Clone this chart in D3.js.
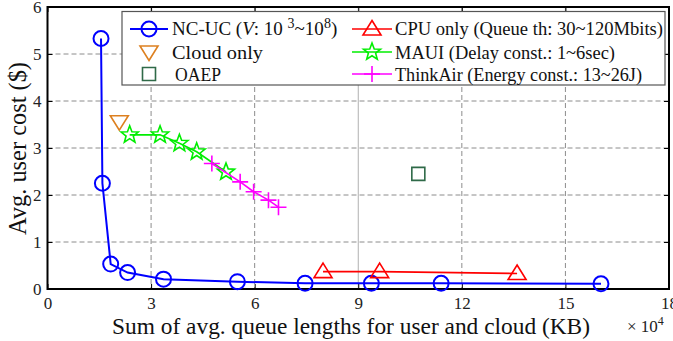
<!DOCTYPE html>
<html>
<head>
<meta charset="utf-8">
<script src="https://cdn.jsdelivr.net/npm/d3@7"></script>
<style>
  body { margin: 0; background: #fff; }
  .grid line { stroke: #8c8c8c; stroke-width: 1; stroke-dasharray: 5, 3; }
</style>
</head>
<body>
<svg width="673" height="341"></svg>
<script>
// data (x in 10^4 KB, y in $)
var ncucX = [1.55, 1.59, 1.83, 2.32, 3.36, 5.5, 7.46, 9.38, 11.4, 16.03];
var ncucY = [5.33, 2.25, 0.53, 0.35, 0.21, 0.155, 0.12, 0.12, 0.12, 0.11];
var cpuX = [7.98, 9.62, 13.6];
var cpuY = [0.37, 0.37, 0.33];
var cloudX = [2.08];
var cloudY = [3.56];
var mauiX = [2.38, 3.26, 3.82, 4.32, 5.17];
var mauiY = [3.28, 3.28, 3.1, 2.92, 2.49];
var thinkX = [4.76, 5.58, 5.97, 6.40, 6.69];
var thinkY = [2.67, 2.28, 2.07, 1.89, 1.74];
var oaepX = [10.74];
var oaepY = [2.45];

var xTicks = [0, 3, 6, 9, 12, 15, 18];
var yTicks = [0, 1, 2, 3, 4, 5, 6];

var plotL = 47.5, plotR = 669, plotT = 7, plotB = 289;
var serif = "Liberation Serif, Tinos, Times New Roman, Nimbus Roman, DejaVu Serif, serif";

var svg = d3.select("svg");

var x = d3.scaleLinear().domain([0, 18]).range([plotL, plotR]);
var y = d3.scaleLinear().domain([0, 6]).range([plotB, plotT]);

// grid
var grid = svg.append("g").attr("class", "grid");
grid.selectAll(".gx")
    .data(xTicks.slice(1, -1))
    .enter().append("line")
    .attr("x1", function(d) { return x(d); })
    .attr("x2", function(d) { return x(d); })
    .attr("y1", plotT)
    .attr("y2", plotB)
    .style("stroke-dasharray", function(d) { return d === 9 ? "none" : null; })
    .style("stroke", function(d) { return d === 9 ? "#b0b0b0" : null; });
grid.selectAll(".gy")
    .data(yTicks.slice(1, -1))
    .enter().append("line")
    .attr("x1", plotL)
    .attr("x2", plotR)
    .attr("y1", function(d) { return y(d); })
    .attr("y2", function(d) { return y(d); });

// axes with inward ticks
var fmt = d3.format("d");
var axB = svg.append("g")
    .attr("transform", "translate(0," + plotB + ")")
    .call(d3.axisBottom(x).tickValues(xTicks).tickFormat(fmt).tickSize(-5).tickPadding(8));
var axL = svg.append("g")
    .attr("transform", "translate(" + plotL + ",0)")
    .call(d3.axisLeft(y).tickValues(yTicks).tickFormat(fmt).tickSize(-5).tickPadding(6));
svg.append("g")
    .attr("transform", "translate(0," + plotT + ")")
    .call(d3.axisTop(x).tickValues(xTicks).tickSize(-5).tickFormat(""));
svg.append("g")
    .attr("transform", "translate(" + plotR + ",0)")
    .call(d3.axisRight(y).tickValues(yTicks).tickSize(-5).tickFormat(""));

svg.selectAll(".domain").remove();
svg.selectAll(".tick line").attr("stroke", "#000");
svg.selectAll("g").attr("font-family", serif).attr("font-size", 17);
svg.selectAll(".tick text").attr("fill", "#222");

svg.append("rect")
    .attr("x", plotL)
    .attr("y", plotT)
    .attr("width", plotR - plotL)
    .attr("height", plotB - plotT)
    .attr("fill", "none")
    .attr("stroke", "#000")
    .attr("stroke-width", 2);

// marker paths
function circlePath() { return d3.symbol().type(d3.symbolCircle).size(Math.PI * 7.5 * 7.5)(); }
function triUp() { return "M0,-8.5L9,6L-9,6Z"; }
function triDown() { return "M0,8.5L9,-6L-9,-6Z"; }
function plusPath() { return "M-8,0L8,0M0,-8L0,8"; }
function squarePath() { return "M-6.5,-6.5L6.5,-6.5L6.5,6.5L-6.5,6.5Z"; }
function starPath() {
    var p = [];
    for (var i = 0; i < 10; i++) {
        var r = i % 2 === 0 ? 9 : 3.8;
        var a = -Math.PI / 2 + i * Math.PI / 5;
        p.push([r * Math.cos(a), r * Math.sin(a)]);
    }
    return "M" + p.map(function(q) { return q[0].toFixed(2) + "," + q[1].toFixed(2); }).join("L") + "Z";
}

var line = d3.line()
    .x(function(d) { return x(d[0]); })
    .y(function(d) { return y(d[1]); });

function zip(xs, ys) { return xs.map(function(v, i) { return [v, ys[i]]; }); }

function series(xs, ys, color, width, marker, drawLine) {
    var pts = zip(xs, ys);
    var g = svg.append("g");
    if (drawLine) {
        g.append("path")
            .datum(pts)
            .attr("d", line)
            .attr("fill", "none")
            .attr("stroke", color)
            .attr("stroke-width", width);
    }
    g.selectAll(".m")
        .data(pts)
        .enter().append("path")
        .attr("transform", function(d) { return "translate(" + x(d[0]) + "," + y(d[1]) + ")"; })
        .attr("d", marker())
        .attr("fill", "none")
        .attr("stroke", color)
        .attr("stroke-width", width);
}

series(ncucX, ncucY, "#0000ff", 2, circlePath, true);
series(cpuX, cpuY, "#ff0000", 1.6, triUp, true);
series(cloudX, cloudY, "#dd8020", 1.6, triDown, false);
series(mauiX, mauiY, "#00ee00", 1.6, starPath, true);
series(thinkX, thinkY, "#ff00ff", 1.6, plusPath, true);
series(oaepX, oaepY, "#2f6a48", 1.6, squarePath, false);

// legend
var lg = svg.append("g");
lg.append("rect")
    .attr("x", 122)
    .attr("y", 11.5)
    .attr("width", 543)
    .attr("height", 73.5)
    .attr("fill", "#fff")
    .attr("stroke", "#555")
    .attr("stroke-width", 1.2);

var rowY = [29, 52, 74];
var legendItems = [
    { col: 0, row: 0, color: "#0000ff", w: 2, marker: circlePath, line: true },
    { col: 0, row: 1, color: "#dd8020", w: 1.6, marker: triDown, line: false },
    { col: 0, row: 2, color: "#2f6a48", w: 1.6, marker: squarePath, line: false },
    { col: 1, row: 0, color: "#ff0000", w: 1.6, marker: triUp, line: true },
    { col: 1, row: 1, color: "#00ee00", w: 1.6, marker: starPath, line: true },
    { col: 1, row: 2, color: "#ff00ff", w: 1.6, marker: plusPath, line: true }
];
var colX = [[130, 168], [352, 392]];
legendItems.forEach(function(it) {
    var x0 = colX[it.col][0], x1 = colX[it.col][1], cy = rowY[it.row];
    if (it.line) {
        lg.append("line")
            .attr("x1", x0).attr("x2", x1)
            .attr("y1", cy).attr("y2", cy)
            .attr("stroke", it.color)
            .attr("stroke-width", it.w);
    }
    lg.append("path")
        .attr("transform", "translate(" + (x0 + x1) / 2 + "," + cy + ")")
        .attr("d", it.marker())
        .attr("fill", "none")
        .attr("stroke", it.color)
        .attr("stroke-width", it.w);
});

function legendText(tx, ty, len) {
    var t = lg.append("text")
        .attr("x", tx)
        .attr("y", ty)
        .attr("font-size", 19)
        .attr("font-family", serif)
        .attr("fill", "#111");
    if (len) t.attr("textLength", len).attr("lengthAdjust", "spacingAndGlyphs");
    return t;
}
var t1 = legendText(172, 35);
t1.append("tspan").text("NC-UC (");
t1.append("tspan").attr("font-style", "italic").text("V");
t1.append("tspan").text(": 10 ");
t1.append("tspan").attr("dy", -7).attr("font-size", 14).text("3");
t1.append("tspan").attr("dy", 7).text("~10");
t1.append("tspan").attr("dy", -7).attr("font-size", 14).text("8");
t1.append("tspan").attr("dy", 7).text(")");
legendText(172, 59, 91).text("Cloud only");
legendText(175, 81, 46).text("OAEP");
legendText(395, 35, 268).text("CPU only (Queue th: 30~120Mbits)");
legendText(395, 59, 220).text("MAUI (Delay const.: 1~6sec)");
legendText(395, 81, 247).text("ThinkAir (Energy const.: 13~26J)");

// axis titles
svg.append("text")
    .attr("x", 112)
    .attr("y", 334)
    .attr("textLength", 478)
    .attr("lengthAdjust", "spacingAndGlyphs")
    .attr("font-size", 23)
    .attr("font-family", serif)
    .attr("fill", "#111")
    .text("Sum of avg. queue lengths for user and cloud (KB)");

svg.append("text")
    .attr("transform", "translate(26,235) rotate(-90)")
    .attr("textLength", 173)
    .attr("lengthAdjust", "spacingAndGlyphs")
    .attr("font-size", 26)
    .attr("font-family", serif)
    .attr("fill", "#111")
    .text("Avg. user cost ($)");

var ex = svg.append("text")
    .attr("x", 627)
    .attr("y", 332)
    .attr("font-size", 17)
    .attr("font-family", serif)
    .attr("fill", "#222");
ex.append("tspan").text("\u00d7 10");
ex.append("tspan").attr("dy", -7).attr("font-size", 12).text("4");
</script>
</body>
</html>
